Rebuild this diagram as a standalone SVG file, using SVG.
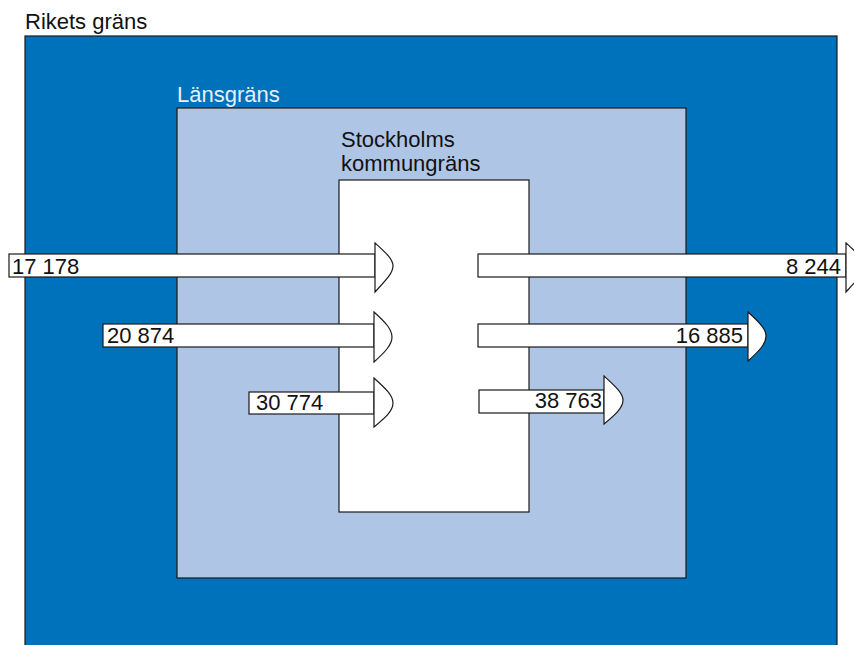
<svg xmlns="http://www.w3.org/2000/svg" width="854" height="645" viewBox="0 0 854 645">
<style>
text{font-family:"Liberation Sans",Arial,sans-serif;font-size:22px;fill:#111}
.box{stroke:#1a1a1a;stroke-width:1.2}
.ar{fill:#fff;stroke:#1a1a1a;stroke-width:1.2;stroke-linejoin:miter}
.r{text-anchor:end}
</style>
<rect width="854" height="645" fill="#fff"/>
<g id="riket">
<rect class="box" x="25" y="36" width="812" height="612" fill="#0072BB"/>
<text x="25" y="29">Rikets gräns</text>
</g>
<g id="lan">
<rect class="box" x="177" y="108" width="509" height="470" fill="#AFC5E5"/>
<text x="177" y="102" style="fill:#e8f0fa">Länsgräns</text>
</g>
<g id="stockholm">
<rect class="box" x="339" y="180" width="190" height="332" fill="#fff"/>
<text x="341" y="147">Stockholms</text>
<text x="341" y="171">kommungräns</text>
</g>
<g id="connectors">
<g id="in1">
<rect class="ar" x="9" y="254" width="366" height="23"/>
<path class="ar" d="M375,243 C386,253 393,259 393,266 C393,273 386,280 375,292 Z"/>
<text x="12" y="274">17 178</text>
</g>
<g id="in2">
<rect class="ar" x="103" y="324" width="271" height="23"/>
<path class="ar" d="M374,312 C385,322 392,329 392,337 C392,345 385,352 374,362 Z"/>
<text x="107" y="343">20 874</text>
</g>
<g id="in3">
<rect class="ar" x="249" y="392" width="125" height="22"/>
<path class="ar" d="M374,378 C385,388 393,395 393,403 C393,411 385,418 374,427 Z"/>
<text x="256" y="410">30 774</text>
</g>
<g id="out1">
<rect class="ar" x="478" y="254" width="368" height="23"/>
<path class="ar" d="M846,243 C857,253 864,259 864,266 C864,273 857,280 846,292 Z"/>
<text class="r" x="841" y="274">8 244</text>
</g>
<g id="out2">
<rect class="ar" x="478" y="324" width="270" height="23"/>
<path class="ar" d="M748,312 C759,322 766,329 766,336 C766,344 759,351 748,361 Z"/>
<text class="r" x="743" y="343">16 885</text>
</g>
<g id="out3">
<rect class="ar" x="479" y="390" width="125" height="23"/>
<path class="ar" d="M604,376 C615,386 623,393 623,400 C623,408 615,415 604,424 Z"/>
<text class="r" x="602" y="408">38 763</text>
</g>
</g>
</svg>
